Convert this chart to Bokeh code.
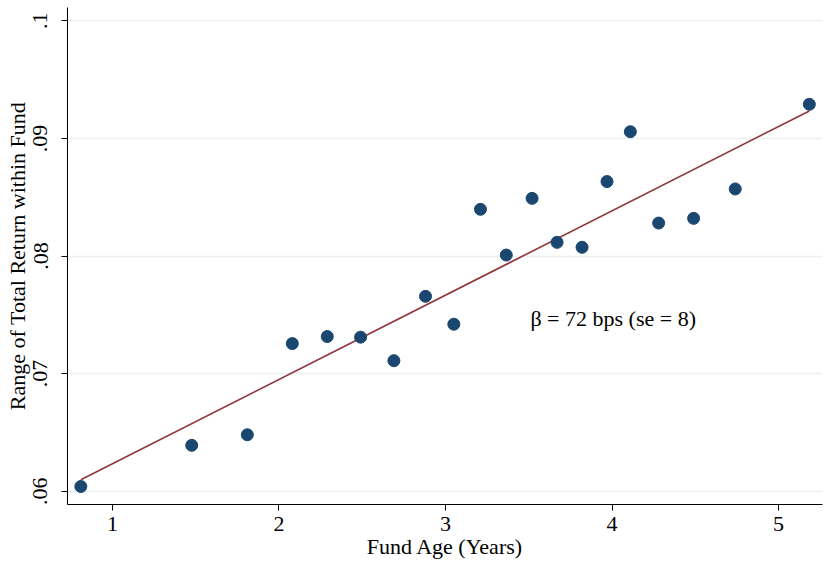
import numpy as np
from bokeh.plotting import figure
from bokeh.models import Range1d, FixedTicker, Label
from bokeh.embed import file_html
from bokeh.resources import INLINE

# Binned data
fund_age = [0.81, 1.476, 1.81, 2.08, 2.29, 2.49, 2.69, 2.88, 3.05, 3.21,
            3.365, 3.52, 3.67, 3.82, 3.97, 4.11, 4.28, 4.49, 4.74, 5.185]
ret_range = [0.0604, 0.0639, 0.0648, 0.07255, 0.07315, 0.0731, 0.0711, 0.07657, 0.0742, 0.08397,
             0.08008, 0.0849, 0.08116, 0.08074, 0.08633, 0.09057, 0.0828, 0.0832, 0.0857, 0.0929]

# Fitted line
fit_slope = 0.00717
fit_intercept = 0.05516

x_ticks = [1, 2, 3, 4, 5]
y_ticks = [0.06, 0.07, 0.08, 0.09, 0.1]
y_tick_labels = [".06", ".07", ".08", ".09", ".1"]
annotation = "β = 72 bps (se = 8)"
x_title = "Fund Age (Years)"
y_title = "Range of Total Return within Fund"

FONT = "Liberation Serif"
FS = "22px"

p = figure(width=824, height=564, output_backend="svg", toolbar_location=None,
           x_range=Range1d(0.73, 5.264), y_range=Range1d(0.05887, 0.10113),
           min_border_left=67, min_border_right=2, min_border_top=7, min_border_bottom=60)
p.outline_line_color = None
p.background_fill_color = "white"
p.border_fill_color = "white"

# grid
p.xgrid.grid_line_color = None
p.ygrid.grid_line_color = "#eaf2f3"
p.ygrid.grid_line_width = 1.5

# axes
for ax in (p.xaxis[0], p.yaxis[0]):
    ax.axis_line_color = "black"
    ax.axis_line_width = 1
    ax.major_tick_line_color = "black"
    ax.major_tick_out = 6
    ax.major_tick_in = 0
    ax.minor_tick_line_color = None
    ax.major_label_text_font = FONT
    ax.major_label_text_font_size = FS
    ax.major_label_text_color = "black"
    ax.axis_label_text_font = FONT
    ax.axis_label_text_font_size = FS
    ax.axis_label_text_font_style = "normal"
    ax.axis_label_text_color = "black"

p.xaxis.ticker = FixedTicker(ticks=x_ticks)
p.yaxis.ticker = FixedTicker(ticks=y_ticks)
p.yaxis.major_label_overrides = {t: l for t, l in zip(y_ticks, y_tick_labels)}
p.yaxis.major_label_orientation = "vertical"
p.xaxis.major_label_standoff = 6
p.yaxis.major_label_standoff = 14
p.xaxis.axis_label = x_title
p.yaxis.axis_label = y_title
p.xaxis.axis_label_standoff = 0
p.yaxis.axis_label_standoff = 1

# fitted line
xs = np.array([min(fund_age), max(fund_age)])
p.line(xs, fit_intercept + fit_slope * xs, line_color="#90353b", line_width=1.6)

# scatter
p.scatter(fund_age, ret_range, size=12, fill_color="#1a476f", line_color="#1a476f")

p.add_layout(Label(x=3.51, y=0.07468, text=annotation, text_font=FONT,
                   text_font_size=FS, text_color="black", text_baseline="middle",
                   text_align="left"))

open("out.html", "w").write(file_html(p, INLINE))
